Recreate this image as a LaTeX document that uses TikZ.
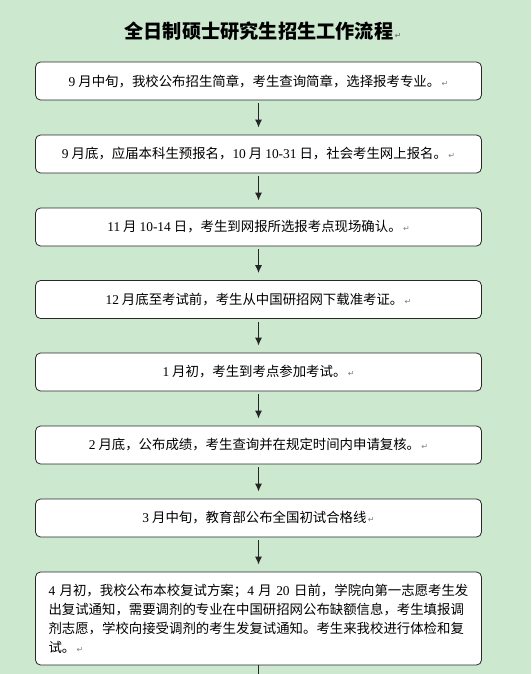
\documentclass[tikz,border=0pt]{standalone}
\usepackage{fontspec}
\newfontfamily\cjk{Noto Sans CJK SC}
\newfontfamily\latin{Liberation Serif}
\newfontfamily\symfont{DejaVu Sans}
\usetikzlibrary{arrows.meta, positioning}
\definecolor{eyegreen}{RGB}{204,232,207}
\definecolor{boxline}{RGB}{40,40,40}
\tikzset{>={Latex[length=8pt,width=7pt]}}
\tikzset{
  stepbox/.style={draw=boxline, fill=white, line width=0.8pt, rounded corners=5pt,
    minimum width=446pt, minimum height=38pt, inner sep=0pt,
    font=\cjk\fontsize{13.4}{19}\selectfont},
  flow/.style={->, line width=1.2pt, draw=black!85, shorten <=3pt, shorten >=7pt},
}
% digits and paragraph mark
\newcommand\dg[1]{{\latin #1}}
\newcommand\pmark{{\symfont\fontsize{8}{8}\selectfont\color{gray}\,↵}}

\begin{document}
\begin{tikzpicture}[x=1pt, y=-1pt]
  \fill[eyegreen] (0,0) rectangle (531,674);
  \useasboundingbox (0,0) rectangle (531,674);

  \node (title) at (263,31) {\cjk\bfseries\fontsize{19.2}{19.2}\selectfont 全日制硕士研究生招生工作流程\pmark};

  \foreach \i/\y/\txt in {
      1/81/{\dg{9} 月中旬，我校公布招生简章，考生查询简章，选择报考专业。},
      2/154/{\dg{9} 月底，应届本科生预报名，\dg{10} 月 \dg{10-31} 日，社会考生网上报名。},
      3/227/{\dg{11} 月 \dg{10-14} 日，考生到网报所选报考点现场确认。},
      4/299.5/{\dg{12} 月底至考试前，考生从中国研招网下载准考证。},
      5/372/{\dg{1} 月初，考生到考点参加考试。},
      6/445/{\dg{2} 月底，公布成绩，考生查询并在规定时间内申请复核。},
      7/518/{\dg{3} 月中旬，教育部公布全国初试合格线}}
    \node[stepbox] (b\i) at (258.5,\y) {\txt\pmark};

  \node[stepbox, minimum height=93pt, text width=420pt, inner xsep=13pt, align=left]
    (b8) at (258.5,618.5)
    {\dg{4} 月初，我校公布本校复试方案；\dg{4} 月 \dg{20} 日前，学院向第一志愿考生发\\
     出复试通知，需要调剂的专业在中国研招网公布缺额信息，考生填报调\\
     剂志愿，学校向接受调剂的考生发复试通知。考生来我校进行体检和复\\
     试。\pmark};

  \foreach \i [evaluate=\i as \j using int(\i+1)] in {1,...,7}
    \draw[flow] (b\i.south) -- (b\j.north);

  \coordinate (tail) at (258.5,674);
  \draw[line width=1.2pt, draw=black!85] (b8.south) -- (tail);
\end{tikzpicture}
\end{document}
